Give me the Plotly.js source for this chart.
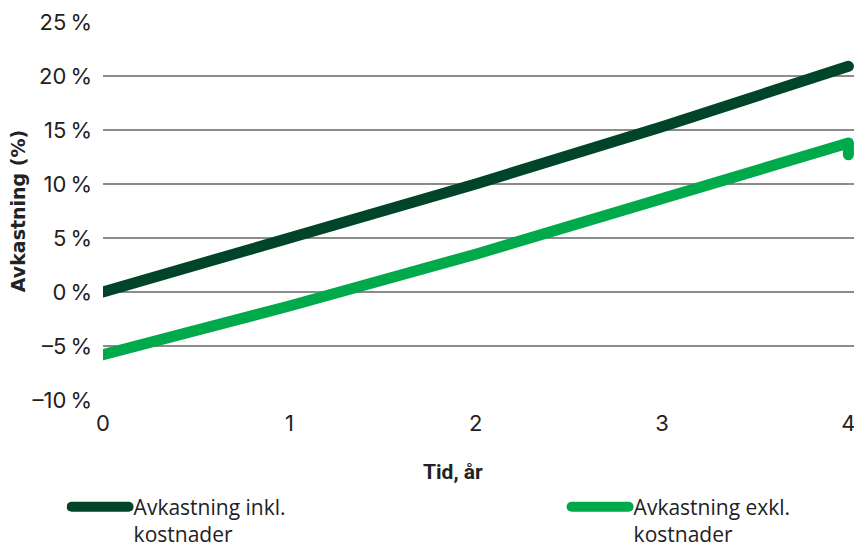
<!DOCTYPE html>
<html>
<head>
<meta charset="utf-8">
<script src="https://cdn.plot.ly/plotly-3.0.1.min.js"></script>
<style>
  html, body { margin: 0; padding: 0; background: #fff; }
  #chart { width: 854px; height: 548px; }
  .scatterlayer path.js-line, .legend path.js-line { stroke-linecap: round; stroke-linejoin: round; }
</style>
</head>
<body>
<div id="chart"></div>
<script>
// Data
const years = [0, 1, 2, 3, 4];
const inklKostnader = [0, 4.9, 10.0, 15.3, 20.9];
const yearsExkl = [0, 1, 2, 3, 4, 4];
const exklKostnader = [-5.8, -1.3, 3.5, 8.6, 13.8, 12.7];

const yTickVals = [-10, -5, 0, 5, 10, 15, 20, 25];
const yTickText = ['\u201310\u2009%', '\u20135\u2009%', '0\u2009%', '5\u2009%', '10\u2009%', '15\u2009%', '20\u2009%', '25\u2009%'];
const xTickVals = [0, 1, 2, 3, 4];
const xTickText = ['0', '1', '2', '3', '4'];

const nameInkl = 'Avkastning inkl.<br>kostnader';
const nameExkl = 'Avkastning exkl.<br>kostnader';
const yTitle = '<b>Avkastning (%)</b>';
const xTitle = '<b>Tid, år</b>';

const darkGreen = '#00452A';
const lightGreen = '#00A94A';

const traces = [
  { x: years, y: inklKostnader, name: nameInkl, type: 'scatter', mode: 'lines',
    line: { color: darkGreen, width: 11 }, legendwidth: 428 },
  { x: yearsExkl, y: exklKostnader, name: nameExkl, type: 'scatter', mode: 'lines',
    line: { color: lightGreen, width: 11 }, legendwidth: 180 }
];

const tickFont = { family: 'Inter, "Noto Sans", sans-serif', size: 22, color: '#222' };

const layout = {
  width: 854, height: 548,
  margin: { l: 103, r: 0, t: 22, b: 148 },
  paper_bgcolor: '#fff', plot_bgcolor: '#fff',
  showlegend: true,
  xaxis: {
    range: [0, 4.03], tickvals: xTickVals, ticktext: xTickText,
    showgrid: false, zeroline: false, showline: false,
    ticks: '', ticklabelstandoff: 8, ticklabeloverflow: 'allow', tickfont: tickFont, fixedrange: true
  },
  yaxis: {
    range: [-10, 25], tickvals: yTickVals, ticktext: yTickText,
    showgrid: true, gridcolor: '#8c8c8c', gridwidth: 1.2,
    zeroline: false, showline: false, ticks: '', ticklabelstandoff: 10,
    tickfont: tickFont,
    title: { text: yTitle, standoff: 1,
      font: { family: '"DejaVu Sans", sans-serif', size: 19, color: '#222' } },
    fixedrange: true
  },
  annotations: [{
    xref: 'paper', yref: 'paper', x: 0.4665, y: -0.19, xanchor: 'center', yanchor: 'middle',
    text: xTitle, showarrow: false,
    font: { family: 'Roboto, "Liberation Sans", sans-serif', size: 21, color: '#222' }
  }],
  legend: {
    orientation: 'h', xref: 'container', yref: 'container',
    x: 0.078, y: 0.112, xanchor: 'left', yanchor: 'top',
    entrywidthmode: 'pixels', itemwidth: 57, valign: 'top',
    font: { family: '"Open Sans", Roboto, sans-serif', size: 21, color: '#222' },
    bgcolor: 'rgba(0,0,0,0)'
  }
};

Plotly.newPlot('chart', traces, layout, { displayModeBar: false, staticPlot: true });
</script>
</body>
</html>
